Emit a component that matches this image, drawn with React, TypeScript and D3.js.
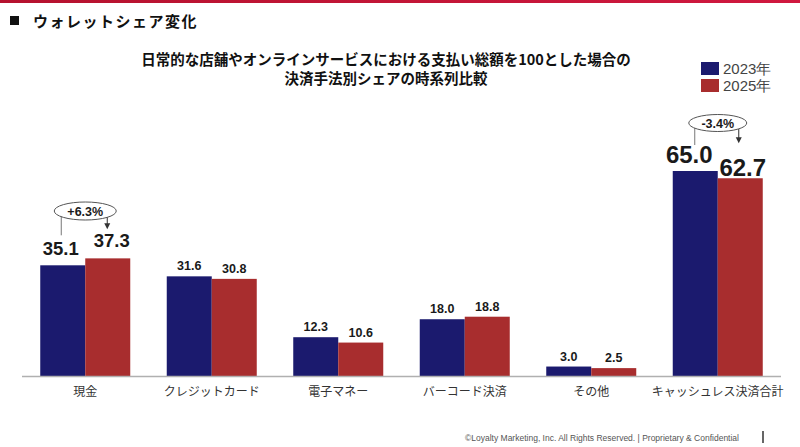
import React from "react";
import * as d3 from "d3";

const categories = ["現金", "クレジットカード", "電子マネー", "バーコード決済", "その他", "キャッシュレス決済合計"];
const series2023 = [35.1, 31.6, 12.3, 18.0, 3.0, 65.0];
const series2025 = [37.3, 30.8, 10.6, 18.8, 2.5, 62.7];
const seriesNames = ["2023年", "2025年"];
const colors = ["#1b1a6e", "#a82d2e"];
const annotations = [
  { idx: 0, text: "+6.3%" },
  { idx: 5, text: "-3.4%" },
];

const W = 800;
const H = 447;
const JP = "'Noto Sans CJK JP', 'Noto Sans', sans-serif";
const NUM = "'Liberation Sans', Arial, sans-serif";

// label style per category: [fontSize, dx2023, dy2023, dx2025, dy2025]
const labelStyle: Record<number, number[]> = {
  0: [18.5, -2, 10, 4, 11],
  5: [24, -6, 8, 2.5, 2],
};

export default function App() {
  const baseY = 376;
  const x = d3.scaleBand<string>().domain(categories).range([22, 781]).padding(0);
  const y = d3.scaleLinear().domain([0, 65]).range([baseY, 171]);
  const barW = 45;

  const bars: JSX.Element[] = [];
  const labels: JSX.Element[] = [];
  categories.forEach((c, i) => {
    const cx = (x(c) as number) + x.bandwidth() / 2;
    [series2023, series2025].forEach((s, k) => {
      const v = s[i];
      const bx = cx - barW + k * barW;
      bars.push(
        <rect key={`b${i}-${k}`} x={bx} y={y(v)} width={barW} height={baseY - y(v)} fill={colors[k]} />
      );
      const st = labelStyle[i];
      const fs = st ? st[0] : 12.5;
      const dx = st ? st[1 + k * 2] : 0;
      const dy = st ? st[2 + k * 2] : 6;
      labels.push(
        <text
          key={`l${i}-${k}`}
          x={bx + barW / 2 + dx}
          y={y(v) - dy}
          textAnchor="middle"
          fontFamily={NUM}
          fontWeight="bold"
          fontSize={fs}
          fill="#1a1a1a"
        >
          {v.toFixed(1)}
        </text>
      );
    });
  });

  const annStyle: Record<number, number[]> = {
    // [ellipse cy, rx, ry, leftDx, leftEndOffset, rightDx, tipOffset]
    0: [211, 31, 9, -24, 30, 22, 29],
    5: [123, 29, 8.5, -23, 26, 21, 35],
  };

  const ann = annotations.map((a, j) => {
    const c = categories[a.idx];
    const cx = (x(c) as number) + x.bandwidth() / 2;
    const [ey, erx, ery, ldx, lOff, rdx, tOff] = annStyle[a.idx];
    const lx = cx + ldx;
    const rx = cx + rdx;
    const leftEnd = y(series2023[a.idx]) - lOff;
    const tip = y(series2025[a.idx]) - tOff;
    return (
      <g key={`a${j}`}>
        <line x1={lx} y1={ey + 5} x2={lx} y2={leftEnd} stroke="#777" strokeWidth={1} />
        <line x1={rx} y1={ey + 5} x2={rx} y2={tip - 5} stroke="#333" strokeWidth={1} />
        <path d={`M${rx - 3},${tip - 6} L${rx + 3},${tip - 6} L${rx},${tip} Z`} fill="#333" />
        <ellipse cx={cx} cy={ey} rx={erx} ry={ery} fill="#fff" stroke="#555" strokeWidth={1} />
        <text x={cx} y={ey + 4.5} textAnchor="middle" fontFamily={NUM} fontWeight="bold" fontSize={12.5} fill="#1a1a1a">
          {a.text}
        </text>
      </g>
    );
  });

  return (
    <svg width={W} height={H} style={{ position: "absolute", left: 0, top: 0 }}>
      <defs>
        <linearGradient id="topbar" x1="0" x2="1" y1="0" y2="0">
          <stop offset="0" stopColor="#b5122e" />
          <stop offset="1" stopColor="#d0183f" />
        </linearGradient>
      </defs>
      <rect x={0} y={0} width={W} height={H} fill="#fff" />
      <rect x={0} y={0} width={W} height={3} fill="url(#topbar)" />
      <rect x={10} y={16} width={9} height={9} fill="#111" />
      <text x={33} y={27} fontFamily={JP} fontWeight="bold" fontSize={15} fill="#111" letterSpacing={1.5}>
        ウォレットシェア変化
      </text>
      <text x={386} y={65} textAnchor="middle" fontFamily={JP} fontWeight="bold" fontSize={14.5} fill="#111">
        日常的な店舗やオンラインサービスにおける支払い総額を100とした場合の
      </text>
      <text x={386} y={84} textAnchor="middle" fontFamily={JP} fontWeight="bold" fontSize={14.5} fill="#111">
        決済手法別シェアの時系列比較
      </text>
      {seriesNames.map((n, k) => (
        <g key={n}>
          <rect x={701} y={62 + k * 17} width={18} height={13} fill={colors[k]} />
          <text x={723} y={74 + k * 17} fontFamily={NUM} fontSize={15} fill="#444">
            {n}
          </text>
        </g>
      ))}
      {bars}
      <line x1={22} x2={781} y1={baseY + 0.5} y2={baseY + 0.5} stroke="#b0b0b0" strokeWidth={1.5} />
      {labels}
      {ann}
      {categories.map((c) => (
        <text
          key={c}
          x={(x(c) as number) + x.bandwidth() / 2}
          y={396}
          textAnchor="middle"
          fontFamily={JP}
          fontSize={12}
          fill="#333"
        >
          {c}
        </text>
      ))}
      <text x={465} y={441} fontFamily={NUM} fontSize={8.5} fill="#555">
        ©Loyalty Marketing, Inc. All Rights Reserved.  |  Proprietary &amp; Confidential
      </text>
      <rect x={762} y={431} width={2} height={12} fill="#666" />
    </svg>
  );
}
